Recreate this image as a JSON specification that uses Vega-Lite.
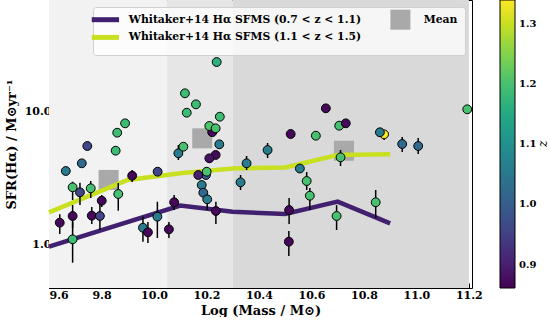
{
  "$schema": "https://vega.github.io/schema/vega-lite/v6.json",
  "width": 423,
  "height": 288,
  "padding": {"left": 5, "top": 0, "right": 0, "bottom": 0},
  "config": {
    "font": "DejaVu Serif",
    "view": {"stroke": "#000000", "strokeWidth": 1},
    "axis": {
      "labelFont": "DejaVu Serif", "labelFontWeight": "bold", "labelFontSize": 11, "labelColor": "#000000",
      "titleFont": "DejaVu Serif", "titleFontWeight": "bold", "titleFontSize": 13, "titleColor": "#000000",
      "domainColor": "#000000", "tickColor": "#000000", "grid": false
    }
  },
  "datasets": {
    "bands": [
      {"m": 9.6, "m2": 10.05, "zone": "a"},
      {"m": 10.05, "m2": 10.3, "zone": "b"},
      {"m": 10.3, "m2": 11.2, "zone": "c"}
    ],
    "means": [
      {"m": 9.827, "sfr": 3.05},
      {"m": 10.184, "sfr": 6.29},
      {"m": 10.724, "sfr": 5.07}
    ],
    "sfms": [
      {"series": "Whitaker+14 Hα SFMS (0.7 < z < 1.1)", "m": 9.6, "sfr": 0.954},
      {"series": "Whitaker+14 Hα SFMS (0.7 < z < 1.1)", "m": 10.1, "sfr": 1.954},
      {"series": "Whitaker+14 Hα SFMS (0.7 < z < 1.1)", "m": 10.3, "sfr": 1.755},
      {"series": "Whitaker+14 Hα SFMS (0.7 < z < 1.1)", "m": 10.5, "sfr": 1.686},
      {"series": "Whitaker+14 Hα SFMS (0.7 < z < 1.1)", "m": 10.7, "sfr": 2.089},
      {"series": "Whitaker+14 Hα SFMS (0.7 < z < 1.1)", "m": 10.9, "sfr": 1.433},
      {"series": "Whitaker+14 Hα SFMS (1.1 < z < 1.5)", "m": 9.6, "sfr": 1.736},
      {"series": "Whitaker+14 Hα SFMS (1.1 < z < 1.5)", "m": 9.9, "sfr": 3.045},
      {"series": "Whitaker+14 Hα SFMS (1.1 < z < 1.5)", "m": 10.1, "sfr": 3.42},
      {"series": "Whitaker+14 Hα SFMS (1.1 < z < 1.5)", "m": 10.3, "sfr": 3.72},
      {"series": "Whitaker+14 Hα SFMS (1.1 < z < 1.5)", "m": 10.5, "sfr": 3.79},
      {"series": "Whitaker+14 Hα SFMS (1.1 < z < 1.5)", "m": 10.7, "sfr": 4.71},
      {"series": "Whitaker+14 Hα SFMS (1.1 < z < 1.5)", "m": 10.9, "sfr": 4.77}
    ],
    "gals": [
      {"m": 9.641, "sfr": 1.449, "lo": 1.19, "hi": 1.677, "z": 0.87},
      {"m": 9.664, "sfr": 3.563, "lo": 3.563, "hi": 3.563, "z": 1.06},
      {"m": 9.725, "sfr": 4.074, "lo": 4.074, "hi": 4.074, "z": 1.02},
      {"m": 9.746, "sfr": 5.505, "lo": 5.505, "hi": 5.505, "z": 0.96},
      {"m": 9.854, "sfr": 5.073, "lo": 4.75, "hi": 5.35, "z": 1.19},
      {"m": 9.86, "sfr": 6.94, "lo": 6.5, "hi": 7.4, "z": 1.19},
      {"m": 9.89, "sfr": 8.17, "lo": 8.17, "hi": 8.17, "z": 1.19},
      {"m": 9.69, "sfr": 2.683, "lo": 2.15, "hi": 2.957, "z": 1.2},
      {"m": 9.69, "sfr": 1.628, "lo": 1.32, "hi": 1.97, "z": 0.87},
      {"m": 9.69, "sfr": 1.085, "lo": 0.722, "hi": 1.467, "z": 1.19},
      {"m": 9.718, "sfr": 2.459, "lo": 1.97, "hi": 2.906, "z": 0.96},
      {"m": 9.759, "sfr": 2.636, "lo": 2.227, "hi": 2.994, "z": 1.2},
      {"m": 9.763, "sfr": 1.637, "lo": 1.416, "hi": 1.904, "z": 0.87},
      {"m": 9.794, "sfr": 1.628, "lo": 1.276, "hi": 2.04, "z": 0.96},
      {"m": 9.801, "sfr": 2.125, "lo": 1.904, "hi": 2.346, "z": 0.87},
      {"m": 9.864, "sfr": 2.388, "lo": 1.785, "hi": 2.891, "z": 1.2},
      {"m": 9.917, "sfr": 3.283, "lo": 2.942, "hi": 3.625, "z": 0.87},
      {"m": 10.014, "sfr": 3.52, "lo": 3.52, "hi": 3.52, "z": 0.96},
      {"m": 9.958, "sfr": 1.328, "lo": 1.041, "hi": 1.608, "z": 1.06},
      {"m": 9.977, "sfr": 1.226, "lo": 1.017, "hi": 1.467, "z": 0.87},
      {"m": 10.013, "sfr": 1.608, "lo": 1.11, "hi": 2.087, "z": 1.06},
      {"m": 10.057, "sfr": 1.291, "lo": 1.11, "hi": 1.467, "z": 0.87},
      {"m": 10.077, "sfr": 2.067, "lo": 1.807, "hi": 2.346, "z": 0.87},
      {"m": 10.093, "sfr": 4.85, "lo": 4.315, "hi": 5.6, "z": 1.06},
      {"m": 10.112, "sfr": 5.438, "lo": 5.438, "hi": 5.438, "z": 1.2},
      {"m": 10.118, "sfr": 13.78, "lo": 13.78, "hi": 13.78, "z": 1.19},
      {"m": 10.125, "sfr": 9.83, "lo": 9.83, "hi": 9.83, "z": 1.19},
      {"m": 10.16, "sfr": 11.37, "lo": 11.37, "hi": 11.37, "z": 1.19},
      {"m": 10.239, "sfr": 23.75, "lo": 23.75, "hi": 23.75, "z": 1.17},
      {"m": 10.251, "sfr": 9.17, "lo": 9.17, "hi": 9.17, "z": 1.19},
      {"m": 10.222, "sfr": 7.0, "lo": 7.0, "hi": 7.0, "z": 0.87},
      {"m": 10.211, "sfr": 7.8, "lo": 7.8, "hi": 7.8, "z": 1.21},
      {"m": 10.235, "sfr": 7.49, "lo": 7.49, "hi": 7.49, "z": 1.2},
      {"m": 10.249, "sfr": 5.67, "lo": 5.67, "hi": 5.67, "z": 1.06},
      {"m": 10.235, "sfr": 4.71, "lo": 4.71, "hi": 4.71, "z": 0.87},
      {"m": 10.211, "sfr": 4.444, "lo": 4.444, "hi": 4.444, "z": 0.88},
      {"m": 10.198, "sfr": 3.323, "lo": 3.323, "hi": 3.323, "z": 1.0},
      {"m": 10.169, "sfr": 3.323, "lo": 3.323, "hi": 3.323, "z": 0.9},
      {"m": 10.201, "sfr": 3.52, "lo": 3.52, "hi": 3.52, "z": 1.2},
      {"m": 10.182, "sfr": 2.792, "lo": 2.792, "hi": 2.792, "z": 1.06},
      {"m": 10.188, "sfr": 2.442, "lo": 2.442, "hi": 2.442, "z": 1.02},
      {"m": 10.203, "sfr": 2.177, "lo": 1.807, "hi": 2.346, "z": 1.06},
      {"m": 10.236, "sfr": 1.776, "lo": 1.416, "hi": 2.087, "z": 0.87},
      {"m": 10.353, "sfr": 4.074, "lo": 3.625, "hi": 4.627, "z": 1.06},
      {"m": 10.33, "sfr": 2.927, "lo": 2.56, "hi": 3.323, "z": 1.06},
      {"m": 10.433, "sfr": 5.135, "lo": 4.467, "hi": 5.8, "z": 1.06},
      {"m": 10.521, "sfr": 6.784, "lo": 6.784, "hi": 6.784, "z": 0.87},
      {"m": 10.617, "sfr": 6.587, "lo": 6.587, "hi": 6.587, "z": 1.2},
      {"m": 10.655, "sfr": 10.61, "lo": 10.61, "hi": 10.61, "z": 0.87},
      {"m": 10.556, "sfr": 3.721, "lo": 3.721, "hi": 3.721, "z": 1.06},
      {"m": 10.582, "sfr": 2.994, "lo": 2.56, "hi": 3.5, "z": 1.2},
      {"m": 10.594, "sfr": 2.318, "lo": 1.807, "hi": 2.651, "z": 1.2},
      {"m": 10.515, "sfr": 1.807, "lo": 1.416, "hi": 2.227, "z": 0.87},
      {"m": 10.514, "sfr": 1.041, "lo": 0.812, "hi": 1.254, "z": 0.87},
      {"m": 10.706, "sfr": 7.84, "lo": 7.84, "hi": 7.84, "z": 1.2},
      {"m": 10.731, "sfr": 8.17, "lo": 8.17, "hi": 8.17, "z": 0.87},
      {"m": 10.877, "sfr": 6.75, "lo": 6.11, "hi": 6.99, "z": 1.34},
      {"m": 10.861, "sfr": 6.99, "lo": 6.99, "hi": 6.99, "z": 1.06},
      {"m": 10.946, "sfr": 5.7, "lo": 4.96, "hi": 6.44, "z": 1.02},
      {"m": 11.007, "sfr": 5.505, "lo": 4.79, "hi": 6.33, "z": 1.02},
      {"m": 11.194, "sfr": 10.43, "lo": 10.43, "hi": 10.43, "z": 1.2},
      {"m": 10.711, "sfr": 4.522, "lo": 3.886, "hi": 5.135, "z": 1.2},
      {"m": 10.696, "sfr": 1.628, "lo": 1.276, "hi": 1.97, "z": 1.2},
      {"m": 10.845, "sfr": 2.067, "lo": 1.572, "hi": 2.56, "z": 1.2}
    ]
  },
  "layer": [
    {
      "data": {"name": "bands"},
      "mark": {"type": "rect"},
      "encoding": {
        "x": {
          "field": "m", "type": "quantitative",
          "scale": {"domain": [9.6, 11.212], "nice": false, "zero": false},
          "axis": {
            "title": "Log (Mass / M⊙)",
            "values": [9.6, 9.8, 10.0, 10.2, 10.4, 10.6, 10.8, 11.0, 11.2],
            "format": ".1f", "tickSize": -5, "labelPadding": 6, "titlePadding": 4, "domain": false
          }
        },
        "x2": {"field": "m2"},
        "color": {"field": "zone", "type": "nominal", "scale": {"domain": ["a", "b", "c"], "range": ["#f2f2f2", "#e6e6e6", "#d9d9d9"]}, "legend": null}
      }
    },
    {
      "data": {"name": "means"},
      "mark": {"type": "square", "size": 400, "color": "#a9a9a9", "opacity": 1},
      "encoding": {
        "x": {"field": "m", "type": "quantitative"},
        "y": {
          "field": "sfr", "type": "quantitative",
          "scale": {"type": "log", "domain": [0.465, 69.9], "nice": false},
          "axis": {
            "title": "SFR(Hα) / M⊙yr⁻¹",
            "values": [0.6, 0.7, 0.8, 0.9, 1, 2, 3, 4, 5, 6, 7, 8, 9, 10, 20, 30, 40, 50, 60],
            "labelExpr": "datum.value === 1 || datum.value === 10 ? format(datum.value, '.1f') : ''",
            "labelOverlap": false,
            "tickSize": {"condition": {"test": "datum.value === 1 || datum.value === 10", "value": -7}, "value": -4},
            "labelPadding": 5, "titlePadding": 6, "domain": false
          }
        }
      }
    },
    {
      "data": {"name": "sfms"},
      "mark": {"type": "line", "strokeWidth": 4.5},
      "encoding": {
        "x": {"field": "m", "type": "quantitative"},
        "y": {"field": "sfr", "type": "quantitative"},
        "stroke": {
          "field": "series", "type": "nominal",
          "scale": {
            "domain": ["Whitaker+14 Hα SFMS (0.7 < z < 1.1)", "Whitaker+14 Hα SFMS (1.1 < z < 1.5)", "Mean"],
            "range": ["#40206f", "#c8e020", "#a9a9a9"]
          },
          "legend": {
            "orient": "none", "legendX": 44, "legendY": 7, "columns": 2, "title": null,
            "symbolSize": 196, "labelOffset": 18, "columnPadding": 28, "rowPadding": -3,
            "padding": 7, "fillColor": "rgba(255,255,255,0.75)", "strokeColor": "#d0d0d0", "cornerRadius": 3,
            "labelFont": "DejaVu Serif", "labelFontSize": 10.8, "labelFontWeight": "bold", "labelColor": "#000000", "labelLimit": 400,
            "encode": {
              "symbols": {
                "update": {
                  "shape": {"signal": "datum.value === 'Mean' ? 'square' : 'M-1.95,0H1.95'"},
                  "size": {"signal": "datum.value === 'Mean' ? 400 : 196"},
                  "strokeWidth": {"signal": "datum.value === 'Mean' ? 0 : 5"},
                  "fill": {"signal": "datum.value === 'Mean' ? '#a9a9a9' : 'transparent'"},
                  "opacity": {"value": 1}
                }
              }
            }
          }
        }
      }
    },
    {
      "data": {"name": "gals"},
      "mark": {"type": "rule", "strokeWidth": 1.5, "color": "#000000"},
      "encoding": {
        "x": {"field": "m", "type": "quantitative"},
        "y": {"field": "lo", "type": "quantitative"},
        "y2": {"field": "hi"}
      }
    },
    {
      "data": {"name": "gals"},
      "mark": {"type": "point", "shape": "circle", "filled": true, "size": 78, "stroke": "#000000", "strokeWidth": 1, "opacity": 1},
      "encoding": {
        "x": {"field": "m", "type": "quantitative"},
        "y": {"field": "sfr", "type": "quantitative"},
        "fill": {
          "field": "z", "type": "quantitative",
          "scale": {"scheme": "viridis", "domain": [0.861, 1.34]},
          "legend": {
            "orient": "none", "legendX": 451, "legendY": 0, "direction": "vertical",
            "gradientLength": 288, "gradientThickness": 15,
            "gradientStrokeColor": "#000000", "gradientStrokeWidth": 1,
            "values": [0.9, 1.0, 1.1, 1.2, 1.3], "format": ".1f", "labelOverlap": false,
            "labelFont": "DejaVu Serif", "labelFontSize": 10, "labelFontWeight": "bold", "labelColor": "#000000", "labelOffset": 4,
            "title": "z", "titleOrient": "right", "titleAnchor": "middle", "titleAngle": 270,
            "titleFont": "DejaVu Serif", "titleFontStyle": "italic", "titleFontWeight": "normal", "titleFontSize": 12, "titleColor": "#000000", "titlePadding": 1
          }
        }
      }
    }
  ]
}
